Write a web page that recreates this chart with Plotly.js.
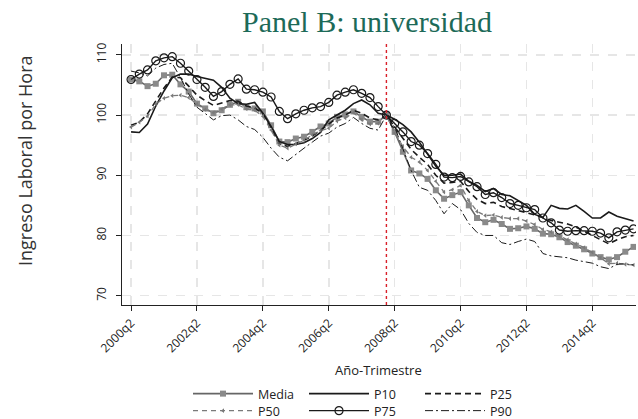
<!DOCTYPE html>
<html>
<head>
<meta charset="utf-8">
<script src="https://cdn.plot.ly/plotly-3.0.1.min.js"></script>
<style>html,body{margin:0;padding:0;background:#fff;}#chart{width:638px;height:419px;}</style>
</head>
<body>
<div id="chart"></div>
<script>
// Quarters 2000q2 .. 2015q3
const quarters = ["2000q2","2000q3","2000q4",
"2001q1","2001q2","2001q3","2001q4","2002q1","2002q2","2002q3","2002q4",
"2003q1","2003q2","2003q3","2003q4","2004q1","2004q2","2004q3","2004q4",
"2005q1","2005q2","2005q3","2005q4","2006q1","2006q2","2006q3","2006q4",
"2007q1","2007q2","2007q3","2007q4","2008q1","2008q2","2008q3","2008q4",
"2009q1","2009q2","2009q3","2009q4","2010q1","2010q2","2010q3","2010q4",
"2011q1","2011q2","2011q3","2011q4","2012q1","2012q2","2012q3","2012q4",
"2013q1","2013q2","2013q3","2013q4","2014q1","2014q2","2014q3","2014q4",
"2015q1","2015q2","2015q3"];

const media = [105.9,105.6,104.8,105.2,106.6,106.7,105.1,103.9,101.9,101.1,100.3,100.8,101.7,102.2,101.3,101.1,100.6,98.3,95.6,95.5,96.1,96.4,97.2,98.1,98.6,99.7,100.1,100.6,99.7,98.9,98.9,100,97.2,93.9,90.8,90.3,89.4,87.5,86.1,86.7,87.2,85.0,82.9,82.2,82.6,81.9,81.1,81.2,81.5,81.1,80.3,80.2,79.7,78.9,78.3,77.7,77.0,76.4,76.0,76.4,77.3,78.1];
const p10 = [97.2,97.1,98.5,101.5,104.0,106.2,106.8,106.8,106.4,106.1,105.8,104.6,102.8,101.9,101.8,102.1,100.3,98.1,95.6,95.1,95.1,95.4,96.1,97.1,99.2,100.0,100.8,101.9,102.5,101.7,100.3,100,99.3,98.4,97.2,95.5,93.5,91.5,90.0,90.0,90.2,89.0,88.3,87.3,87.8,86.8,86.6,85.8,85.0,83.5,83.0,85.0,84.5,84.4,85.0,84.0,82.9,82.9,83.9,83.2,82.8,82.4];
const p25 = [98.3,98.8,100.2,102.3,104.5,106.3,106.2,104.8,103.3,102.4,101.6,102.0,102.4,102.3,101.5,101.2,100.2,97.8,95.2,94.8,95.3,95.8,96.5,97.5,98.5,99.5,100.0,100.8,100.3,99.5,99.2,100,98.0,96.2,94.3,93.0,91.8,90.0,88.7,88.8,89.0,87.3,86.0,85.3,85.5,84.8,84.5,84.2,83.8,83.4,82.9,82.5,82.2,81.9,81.4,80.7,80.1,79.3,78.6,79.3,79.8,80.0];
const p50 = [98.0,98.8,99.8,101.8,102.8,103.2,103.3,102.9,101.8,100.9,100.4,101.0,101.7,101.7,101.0,100.8,99.8,97.5,95.0,94.5,95.2,95.8,96.7,97.4,97.8,99.0,99.5,100.4,99.2,98.5,98.6,100,97.0,94.8,93.0,92.2,90.8,89.0,87.2,87.6,88.3,85.8,84.0,83.3,83.4,83.0,82.8,82.8,82.4,81.8,81.0,80.6,79.9,79.3,78.6,78.0,77.2,76.3,75.3,75.4,75.2,75.1];
const p75 = [105.9,106.8,107.5,109.0,109.5,109.7,108.6,107.3,105.9,104.6,103.1,103.9,105.1,106.0,104.3,104.2,103.8,103.0,100.6,99.4,100.2,100.8,101.2,101.4,102.1,103.3,103.8,104.2,103.6,102.9,101.4,100,98.6,97.2,95.6,95.0,93.6,91.8,89.7,89.6,89.8,88.9,88.1,86.8,87.1,86.3,85.3,85.0,84.6,84.3,82.9,82.1,80.9,80.7,80.8,80.8,80.7,80.4,79.6,80.6,80.9,81.1];
const p90 = [107.3,107.0,106.5,107.8,108.4,108.6,106.2,103.5,101.3,100.3,99.2,99.9,100.0,99.2,98.1,97.6,96.3,94.5,93.0,92.4,93.5,94.5,95.5,96.5,97.0,98.0,98.6,99.6,98.6,97.8,97.5,100,98.0,94.4,90.8,88.0,87.5,85.8,83.6,85.3,84.3,82.0,80.5,80.0,80.0,78.8,78.5,79.0,79.4,79.0,77.0,76.6,76.5,76.3,75.9,75.6,75.4,74.8,74.5,75.2,75.3,75.1];

const xTickVals = ["2000q2","2002q2","2004q2","2006q2","2008q2","2010q2","2012q2","2014q2"];
const yTickVals = [70,80,90,100,110];
const baseQuarter = "2008q1";
const seriesNames = ["Media","P10","P25","P50","P75","P90"];

const FONT = "Open Sans, Liberation Sans, sans-serif";

const traces = [
  {x: quarters, y: media, name: seriesNames[0], mode: "lines+markers", legend: "legend",
   line: {color: "#666666", width: 1.6},
   marker: {symbol: "square", size: 6, color: "#8a8a8a"}},
  {x: quarters, y: p10, name: seriesNames[1], mode: "lines", legend: "legend",
   line: {color: "#1a1a1a", width: 1.6}},
  {x: quarters, y: p25, name: seriesNames[2], mode: "lines", legend: "legend",
   line: {color: "#1a1a1a", width: 1.6, dash: "6px,4px"}},
  {x: quarters, y: p50, name: seriesNames[3], mode: "lines+markers", legend: "legend2",
   line: {color: "#7a7a7a", width: 1.3, dash: "5px,4px"},
   marker: {symbol: "triangle-left", size: 4, color: "#7a7a7a"}},
  {x: quarters, y: p75, name: seriesNames[4], mode: "lines+markers", legend: "legend2",
   line: {color: "#1a1a1a", width: 1.4},
   marker: {symbol: "circle-open", size: 8, color: "#1a1a1a", line: {width: 1.2}}},
  {x: quarters, y: p90, name: seriesNames[5], mode: "lines", legend: "legend2",
   line: {color: "#1a1a1a", width: 1, dash: "8px,3px,2px,3px"}}
];

const legendCommon = {orientation: "h", xanchor: "left", yanchor: "top",
  entrywidth: 41, entrywidthmode: "pixels", itemwidth: 60, tracegroupgap: 0,
  font: {family: FONT, size: 12.5, color: "#222"}, bgcolor: "rgba(0,0,0,0)"};

const layout = {
  width: 638, height: 419,
  margin: {l: 122, r: 2, t: 44, b: 114, autoexpand: false},
  paper_bgcolor: "#fff", plot_bgcolor: "#fff",
  font: {family: FONT, size: 11, color: "#222"},
  title: {text: "Panel B: universidad", x: 367/638, xref: "container", xanchor: "center",
          y: 1 - 21/419, yref: "container", yanchor: "middle",
          font: {family: "Liberation Serif, Times New Roman, serif", size: 30, color: "#1d6a58"}},
  xaxis: {type: "category", range: [-1.1, 61.3], tickmode: "array", tickvals: xTickVals, ticktext: xTickVals,
          tickangle: -45, ticks: "outside", ticklen: 5, tickcolor: "#222",
          showline: true, linecolor: "#222", linewidth: 1.2, mirror: false,
          showgrid: true, gridcolor: "#e6e6e6", gridwidth: 1.5, griddash: "dash",
          zeroline: false, tickfont: {size: 12, color: "#222"}},
  yaxis: {range: [68.45, 111.8], tickmode: "array", tickvals: yTickVals, tickangle: -90,
          ticks: "outside", ticklen: 5, tickcolor: "#222", ticklabelstandoff: 5,
          showline: true, linecolor: "#222", linewidth: 1.2,
          showgrid: true, gridcolor: "#e6e6e6", gridwidth: 1.5, griddash: "dash",
          zeroline: false, tickfont: {size: 12, color: "#222"}},
  showlegend: true,
  legend: Object.assign({}, legendCommon, {x: (188-122)/514, y: (305-379)/261}),
  legend2: Object.assign({}, legendCommon, {x: (188-122)/514, y: (305-396)/261}),
  shapes: [{type: "line", xref: "x", yref: "paper", x0: quarters.indexOf(baseQuarter), x1: quarters.indexOf(baseQuarter),
            y0: 0, y1: 1, line: {color: "#d8202a", width: 1.4, dash: "dot"}}],
  annotations: [
    {text: "Ingreso Laboral por Hora", xref: "paper", yref: "paper", x: (25-122)/514, y: (305-161)/261,
     xanchor: "center", yanchor: "middle", textangle: -90, showarrow: false,
     font: {family: FONT, size: 18, color: "#333"}},
    {text: "Año-Trimestre", xref: "paper", yref: "paper", x: (378-122)/514, y: (305-370)/261,
     xanchor: "center", yanchor: "middle", showarrow: false,
     font: {family: FONT, size: 13, color: "#222"}}
  ]
};

Plotly.newPlot("chart", traces, layout, {staticPlot: true, displayModeBar: false});
</script>
</body>
</html>
